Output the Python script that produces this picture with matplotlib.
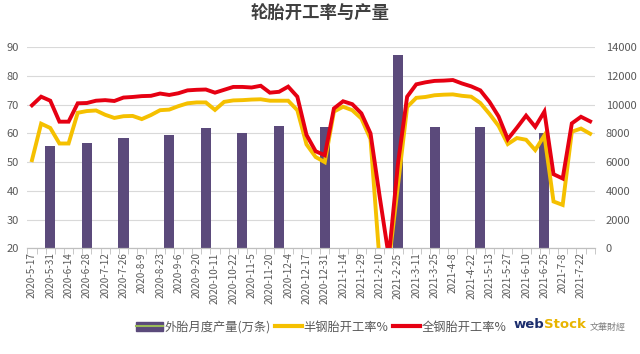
import numpy as np
import matplotlib
matplotlib.use("Agg")
import matplotlib.pyplot as plt
from matplotlib.patches import Patch
from matplotlib.lines import Line2D

plt.rcParams['font.family'] = ['Noto Sans CJK SC', 'DejaVu Sans']

# weekly categories (only every other one is labelled on the axis)
dates = ['2020-5-17', '2020-5-24', '2020-5-31', '2020-6-7', '2020-6-14', '2020-6-21',
         '2020-6-28', '2020-7-5', '2020-7-12', '2020-7-19', '2020-7-26', '2020-8-2',
         '2020-8-9', '2020-8-16', '2020-8-23', '2020-8-30', '2020-9-6', '2020-9-13',
         '2020-9-20', '2020-9-27', '2020-10-11', '2020-10-15', '2020-10-22', '2020-10-29',
         '2020-11-5', '2020-11-12', '2020-11-20', '2020-11-26', '2020-12-4', '2020-12-10',
         '2020-12-17', '2020-12-24', '2020-12-31', '2021-1-7', '2021-1-14', '2021-1-21',
         '2021-1-29', '2021-2-4', '2021-2-10', '2021-2-18', '2021-2-25', '2021-3-4',
         '2021-3-11', '2021-3-18', '2021-3-25', '2021-4-1', '2021-4-8', '2021-4-15',
         '2021-4-22', '2021-4-29', '2021-5-13', '2021-5-20', '2021-5-27', '2021-6-3',
         '2021-6-10', '2021-6-17', '2021-6-25', '2021-7-1', '2021-7-8', '2021-7-15',
         '2021-7-22', '2021-7-29']

# 全钢胎开工率 %
all_steel = [69.8, 72.8, 71.4, 64.1, 64.1, 70.5, 70.6, 71.4, 71.6, 71.3,
             72.5, 72.7, 73.0, 73.1, 73.9, 73.4, 74.0, 75.0, 75.2, 75.3,
             74.2, 75.2, 76.2, 76.2, 76.0, 76.6, 74.2, 74.5, 76.3, 72.8,
             59.5, 53.8, 52.4, 68.7, 71.2, 70.2, 67.0, 60.0, 38.0, 17.0,
             49.5, 72.8, 77.1, 77.8, 78.3, 78.4, 78.6, 77.4, 76.4, 75.0,
             71.0, 65.9, 58.0, 62.0, 66.2, 62.3, 67.6, 45.8, 44.3, 63.5,
             65.8, 64.2]

# 半钢胎开工率 %
semi_steel = [50.7, 63.4, 61.9, 56.5, 56.5, 67.2, 67.8, 68.0, 66.5, 65.4,
              66.0, 66.1, 65.0, 66.4, 68.1, 68.3, 69.5, 70.5, 70.8, 70.8,
              68.2, 71.0, 71.5, 71.6, 71.8, 71.9, 71.4, 71.4, 71.4, 68.1,
              56.2, 51.8, 50.0, 67.6, 69.3, 68.1, 65.2, 58.0, 15.0, 15.0,
              42.0, 69.2, 72.4, 72.7, 73.3, 73.5, 73.6, 73.1, 72.8, 70.6,
              66.8, 62.6, 56.3, 58.4, 57.8, 54.2, 59.3, 36.3, 35.1, 60.6,
              61.7, 59.9]

# 外胎月度产量 (万条), placed on the week it was reported
output_week = ['2020-5-31', '2020-6-28', '2020-7-26', '2020-8-30', '2020-9-27', '2020-10-29',
               '2020-11-26', '2020-12-31', '2021-2-25', '2021-3-25', '2021-4-29', '2021-6-25']
output_val = [7100, 7300, 7660, 7900, 8400, 8060, 8500, 8460, 13460, 8420, 8460, 8000]

x = np.arange(len(dates))
bar_x = [dates.index(d) for d in output_week]

fig = plt.figure(figsize=(6.4, 3.54), dpi=100)
ax = fig.add_axes([27.4 / 640, 1 - 248.3 / 354, (594.7 - 27.4) / 640, (248.3 - 47.3) / 354])
ax2 = ax.twinx()

grey = '#595959'
ax2.bar(bar_x, output_val, width=1.1, color='#5b4a7b', zorder=2)
ax2.set_ylim(0, 14000)
ax2.set_yticks(np.arange(0, 14001, 2000))
ax2.grid(axis='y', color='#d9d9d9', lw=0.8, zorder=0)
ax2.set_axisbelow(True)

ax.plot(x, semi_steel, color='#f5c000', lw=2.8, solid_joinstyle='miter')
ax.plot(x, all_steel, color='#e60012', lw=2.8, solid_joinstyle='miter')
ax.set_ylim(20, 90)
ax.set_yticks(np.arange(20, 91, 10))
ax.set_xlim(-0.5, len(dates) - 0.5)
ax.set_zorder(ax2.get_zorder() + 1)
ax.patch.set_visible(False)

ax.set_xticks(x[::2])
ax.set_xticklabels(dates[::2], rotation=90, fontsize=7.2, color=grey)
ax.set_xticks(np.arange(-0.5, len(dates), 1), minor=True)
ax.tick_params(axis='x', which='major', length=0, pad=3)
ax.tick_params(axis='x', which='minor', length=4, color='#bfbfbf')
ax.tick_params(axis='y', length=0, labelsize=8, labelcolor=grey, pad=6)
ax2.tick_params(axis='y', length=0, labelsize=8, labelcolor=grey, pad=8)
for a in (ax, ax2):
    for s in ('top', 'left', 'right'):
        a.spines[s].set_visible(False)
    a.spines['bottom'].set_color('#bfbfbf')

fig.text(0.5, 0.96, '轮胎开工率与产量', ha='center', va='center', fontsize=12.5,
         fontweight='bold', color='#404040')

handles = [(Patch(color='#5b4a7b'), Line2D([], [], color='#9bbb59', lw=1.5)),
           Line2D([], [], color='#f5c000', lw=3),
           Line2D([], [], color='#e60012', lw=3)]
labels = ['外胎月度产量(万条)', '半钢胎开工率%', '全钢胎开工率%']
fig.legend(handles, labels, loc='center', bbox_to_anchor=(321 / 640, 1 - 327 / 354), ncol=3,
           frameon=False, fontsize=8.8, handlelength=2.2, handletextpad=0.15,
           columnspacing=0.35, labelcolor=grey)

fig.text(514 / 640, 1 - 325 / 354, 'web', ha='left', va='center', fontsize=9.5,
         fontweight='bold', color='#1c2e6e', family='DejaVu Sans')
fig.text(544 / 640, 1 - 325 / 354, 'Stock', ha='left', va='center', fontsize=9.5,
         fontweight='bold', color='#e8b400', family='DejaVu Sans')
fig.text(590 / 640, 1 - 327 / 354, '文華財經', ha='left', va='center', fontsize=6.5, color='#7f7f7f')

fig.savefig('out.png', dpi=100)
